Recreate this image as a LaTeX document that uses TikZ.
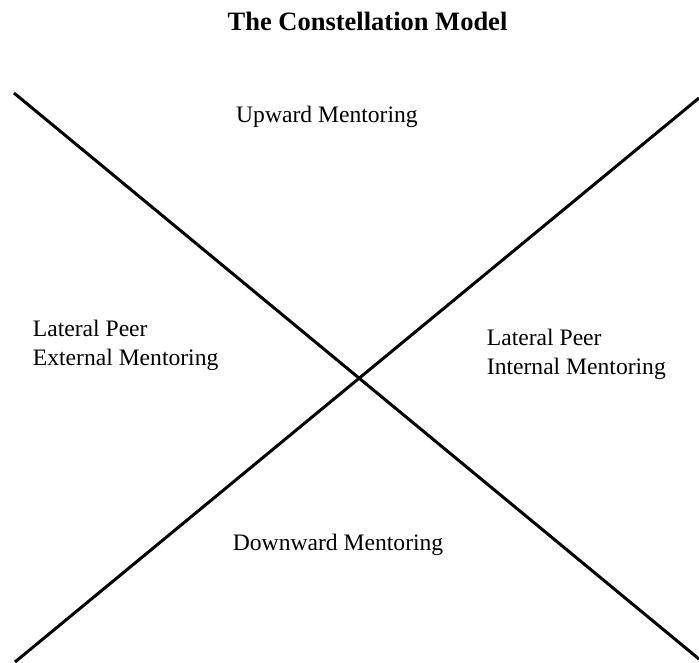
\documentclass[tikz,border=0pt]{standalone}
\usepackage{fontspec}
\setmainfont{Liberation Serif}
\begin{document}
\begin{tikzpicture}[x=1pt,y=-1pt,
  lbl/.style={anchor=base west,inner sep=0pt,font=\fontsize{23.6}{28.3}\selectfont},
  ttl/.style={anchor=base,inner sep=0pt,font=\fontsize{26.5}{31}\selectfont\bfseries},
  xline/.style={line width=3pt,black}]
\useasboundingbox (0,0) rectangle (699,662);
\coordinate (a1) at (14,93);
\coordinate (a2) at (699,659);
\coordinate (b1) at (15,662);
\coordinate (b2) at (699,98);
\draw[xline] (a1) -- (a2);
\draw[xline] (b1) -- (b2);
\node[ttl] (title) at (367.5,30) {The Constellation Model};
\node[lbl] (up) at (236,122) {Upward Mentoring};
\node[lbl] (le1) at (32.7,336.5) {Lateral Peer};
\node[lbl] (le2) at (32.7,365) {External Mentoring};
\node[lbl] (li1) at (486.7,345.5) {Lateral Peer};
\node[lbl] (li2) at (486.7,374) {Internal Mentoring};
\node[lbl] (down) at (232.7,550) {Downward Mentoring};
\end{tikzpicture}
\end{document}
